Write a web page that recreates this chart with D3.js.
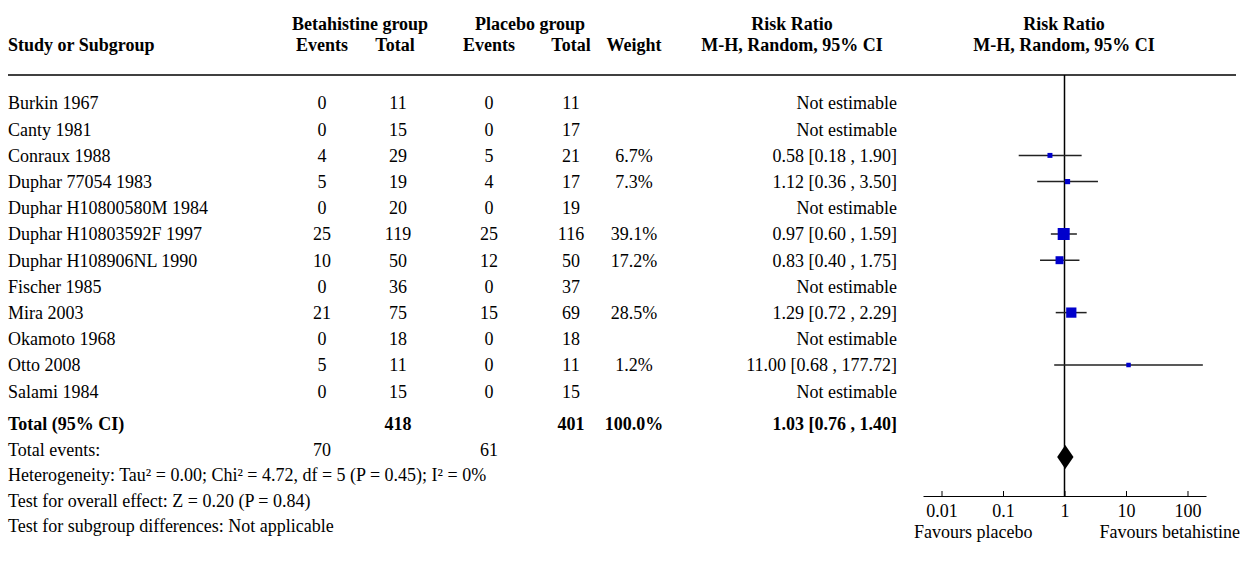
<!DOCTYPE html>
<html>
<head>
<meta charset="utf-8">
<script src="https://cdn.jsdelivr.net/npm/d3@7"></script>
<style>
	body { margin: 0; background: #fff; }
	svg text { font-family: "Liberation Serif", "Times New Roman", serif; font-size: 18px; fill: #000; }
	.bold { font-weight: bold; }
</style>
</head>
<body>
<svg id="chart" width="1244" height="570"></svg>
<script>
var studies = ["Burkin 1967", "Canty 1981", "Conraux 1988", "Duphar 77054 1983", "Duphar H10800580M 1984",
	"Duphar H10803592F 1997", "Duphar H108906NL 1990", "Fischer 1985", "Mira 2003", "Okamoto 1968",
	"Otto 2008", "Salami 1984"];
var betaEvents = [0, 0, 4, 5, 0, 25, 10, 0, 21, 0, 5, 0];
var betaTotal = [11, 15, 29, 19, 20, 119, 50, 36, 75, 18, 11, 15];
var placEvents = [0, 0, 5, 4, 0, 25, 12, 0, 15, 0, 0, 0];
var placTotal = [11, 17, 21, 17, 19, 116, 50, 37, 69, 18, 11, 15];
var weights = [null, null, 6.7, 7.3, null, 39.1, 17.2, null, 28.5, null, 1.2, null];
var ratios = [null, null, 0.58, 1.12, null, 0.97, 0.83, null, 1.29, null, 11.00, null];
var lower = [null, null, 0.18, 0.36, null, 0.60, 0.40, null, 0.72, null, 0.68, null];
var upper = [null, null, 1.90, 3.50, null, 1.59, 1.75, null, 2.29, null, 177.72, null];

var total = { label: "Total (95% CI)", betaTotal: 418, placTotal: 401, weight: "100.0%", rr: 1.03, lo: 0.76, hi: 1.40 };
var totalEvents = [70, 61];
var footLines = [
	"Heterogeneity: Tau\u00b2 = 0.00; Chi\u00b2 = 4.72, df = 5 (P = 0.45); I\u00b2 = 0%",
	"Test for overall effect: Z = 0.20 (P = 0.84)",
	"Test for subgroup differences: Not applicable"
];
var axisTicks = [0.01, 0.1, 1, 10, 100];
var axisLabels = ["0.01", "0.1", "1", "10", "100"];

var svg = d3.select("#chart");

// column positions
var col = { name: 8, bEv: 322, bTot: 398, pEv: 489, pTot: 571, weight: 634, rrRight: 897 };
var rowY = d3.scaleLinear().domain([0, 11]).range([103, 391.2]);

var x = d3.scaleLog().domain([0.005, 200]).range([923, 1206]);
var boxSize = d3.scaleSqrt().domain([0, 39.1]).range([0, 12]);

function fmt(v) { return v.toFixed(2); }
function ciText(r, l, h) { return fmt(r) + " [" + fmt(l) + " , " + fmt(h) + "]"; }

// header
var head1 = [["Betahistine group", 360], ["Placebo group", 530], ["Risk Ratio", 792], ["Risk Ratio", 1064]];
svg.selectAll("text.head1")
	.data(head1)
	.enter()
  .append("text")
	.attr("class", "head1 bold")
	.attr("x", function (d) { return d[1]; })
	.attr("y", 24)
	.attr("dy", "0.35em")
	.attr("text-anchor", "middle")
	.text(function (d) { return d[0]; });

var head2 = [["Events", col.bEv], ["Total", 395], ["Events", col.pEv], ["Total", col.pTot],
	["Weight", col.weight], ["M-H, Random, 95% CI", 792], ["M-H, Random, 95% CI", 1064]];
svg.selectAll("text.head2")
	.data(head2)
	.enter()
  .append("text")
	.attr("class", "head2 bold")
	.attr("x", function (d) { return d[1]; })
	.attr("y", 45)
	.attr("dy", "0.35em")
	.attr("text-anchor", "middle")
	.text(function (d) { return d[0]; });

svg.append("text")
	.attr("class", "bold")
	.attr("x", col.name)
	.attr("y", 45)
	.attr("dy", "0.35em")
	.text("Study or Subgroup");

svg.append("line")
	.attr("x1", 8)
	.attr("x2", 1236)
	.attr("y1", 75)
	.attr("y2", 75)
	.attr("stroke", "#000")
	.attr("stroke-width", 1.5);

// study rows
var rows = svg.selectAll("g.row")
	.data(studies)
	.enter()
  .append("g")
	.attr("class", "row")
	.attr("transform", function (d, i) { return "translate(0," + rowY(i) + ")"; });

rows.append("text").attr("x", col.name).attr("dy", "0.35em").text(function (d) { return d; });
rows.append("text").attr("x", col.bEv).attr("dy", "0.35em").attr("text-anchor", "middle")
	.text(function (d, i) { return betaEvents[i]; });
rows.append("text").attr("x", col.bTot).attr("dy", "0.35em").attr("text-anchor", "middle")
	.text(function (d, i) { return betaTotal[i]; });
rows.append("text").attr("x", col.pEv).attr("dy", "0.35em").attr("text-anchor", "middle")
	.text(function (d, i) { return placEvents[i]; });
rows.append("text").attr("x", col.pTot).attr("dy", "0.35em").attr("text-anchor", "middle")
	.text(function (d, i) { return placTotal[i]; });
rows.append("text").attr("x", col.weight).attr("dy", "0.35em").attr("text-anchor", "middle")
	.text(function (d, i) { return weights[i] == null ? "" : weights[i].toFixed(1) + "%"; });
rows.append("text").attr("x", col.rrRight).attr("dy", "0.35em").attr("text-anchor", "end")
	.text(function (d, i) { return ratios[i] == null ? "Not estimable" : ciText(ratios[i], lower[i], upper[i]); });

// null line
svg.append("line")
	.attr("x1", x(1))
	.attr("x2", x(1))
	.attr("y1", 75)
	.attr("y2", 496)
	.attr("stroke", "#000")
	.attr("stroke-width", 1.5);

// CI lines and boxes
var est = d3.range(studies.length).filter(function (i) { return ratios[i] != null; });

svg.selectAll("line.ci")
	.data(est)
	.enter()
  .append("line")
	.attr("class", "ci")
	.attr("x1", function (i) { return x(lower[i]); })
	.attr("x2", function (i) { return x(upper[i]); })
	.attr("y1", function (i) { return rowY(i); })
	.attr("y2", function (i) { return rowY(i); })
	.attr("stroke", "#222")
	.attr("stroke-width", 1.5);

svg.selectAll("rect.box")
	.data(est)
	.enter()
  .append("rect")
	.attr("class", "box")
	.attr("x", function (i) { return x(ratios[i]) - Math.max(4.5, boxSize(weights[i])) / 2; })
	.attr("y", function (i) { return rowY(i) - Math.max(4.5, boxSize(weights[i])) / 2; })
	.attr("width", function (i) { return Math.max(4.5, boxSize(weights[i])); })
	.attr("height", function (i) { return Math.max(4.5, boxSize(weights[i])); })
	.attr("fill", "#0000cc");

// total row
var totalY = 424;
svg.append("text").attr("class", "bold").attr("x", col.name).attr("y", totalY).attr("dy", "0.35em").text(total.label);
svg.append("text").attr("class", "bold").attr("x", col.bTot).attr("y", totalY).attr("dy", "0.35em")
	.attr("text-anchor", "middle").text(total.betaTotal);
svg.append("text").attr("class", "bold").attr("x", col.pTot).attr("y", totalY).attr("dy", "0.35em")
	.attr("text-anchor", "middle").text(total.placTotal);
svg.append("text").attr("class", "bold").attr("x", col.weight).attr("y", totalY).attr("dy", "0.35em")
	.attr("text-anchor", "middle").text(total.weight);
svg.append("text").attr("class", "bold").attr("x", col.rrRight).attr("y", totalY).attr("dy", "0.35em")
	.attr("text-anchor", "end").text(ciText(total.rr, total.lo, total.hi));

var diamondY = 457;
svg.append("path")
	.datum([[total.lo, 0], [total.rr, -12], [total.hi, 0], [total.rr, 12]])
	.attr("d", d3.line()
		.x(function (d) { return x(d[0]); })
		.y(function (d) { return diamondY + d[1]; })
		.curve(d3.curveLinearClosed))
	.attr("fill", "#000");

// total events + footnotes
svg.append("text").attr("x", col.name).attr("y", 449.5).attr("dy", "0.35em").text("Total events:");
svg.append("text").attr("x", col.bEv).attr("y", 449.5).attr("dy", "0.35em").attr("text-anchor", "middle").text(totalEvents[0]);
svg.append("text").attr("x", col.pEv).attr("y", 449.5).attr("dy", "0.35em").attr("text-anchor", "middle").text(totalEvents[1]);

svg.selectAll("text.foot")
	.data(footLines)
	.enter()
  .append("text")
	.attr("class", "foot")
	.attr("x", col.name)
	.attr("y", function (d, i) { return 474.5 + i * 25.8; })
	.attr("dy", "0.35em")
	.text(function (d) { return d; });

// axis
var axis = d3.axisBottom(x)
	.tickValues(axisTicks)
	.tickFormat(function (d, i) { return axisLabels[i]; })
	.tickSizeInner(-5)
	.tickSizeOuter(0)
	.tickPadding(8);

var axisG = svg.append("g")
	.attr("transform", "translate(0,496)")
	.call(axis);
axisG.selectAll("text").style("font-size", "18px").attr("fill", "#000");
axisG.selectAll("line").attr("stroke", "#000");
axisG.select(".domain").attr("stroke", "#000");

svg.append("text").attr("x", 914).attr("y", 532).attr("dy", "0.35em").text("Favours placebo");
svg.append("text").attr("x", 1240).attr("y", 532).attr("dy", "0.35em").attr("text-anchor", "end").text("Favours betahistine");
</script>
</body>
</html>
